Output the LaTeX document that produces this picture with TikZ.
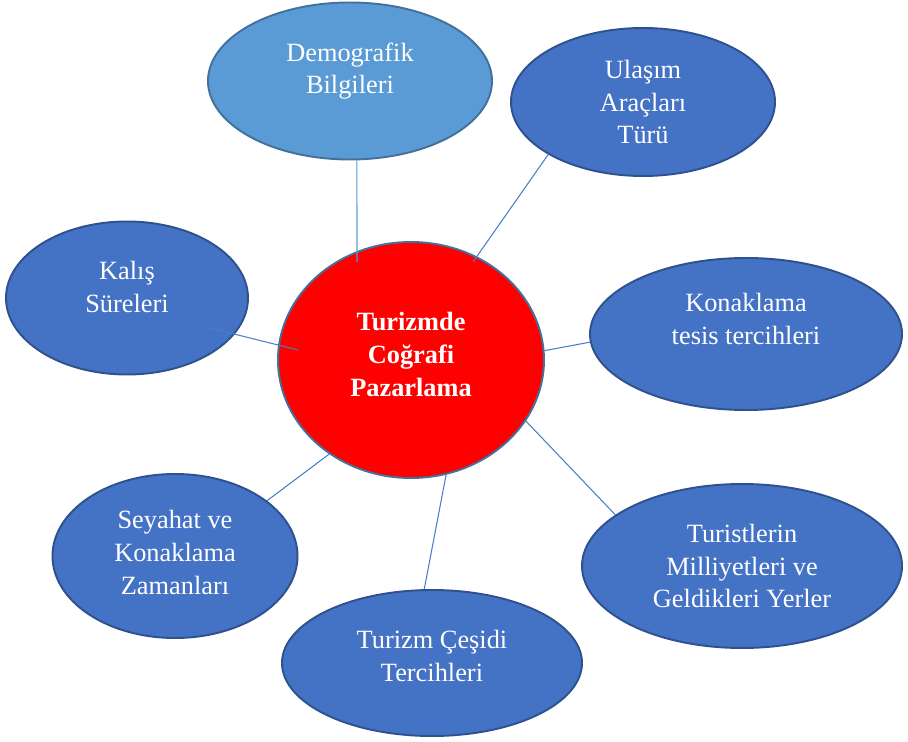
\documentclass[tikz,border=0pt]{standalone}
\usepackage{fontspec}
\setmainfont{Liberation Serif}
\usetikzlibrary{shapes.geometric,calc}
\definecolor{bubblefill}{HTML}{4472C4}
\definecolor{bubbleline}{HTML}{2F528F}
\definecolor{lightfill}{HTML}{5B9BD5}
\definecolor{lightline}{HTML}{41719C}
\definecolor{linkcol}{HTML}{4A7DC9}
% push the text of a bubble up a little
\newcommand{\liftby}[1]{\rule[-#1]{0pt}{#1}}
\begin{document}
\begin{tikzpicture}[x=0.02cm, y=-0.02cm,
  bubble/.style={ellipse, draw=bubbleline, fill=bubblefill, line width=1.1pt,
    inner sep=0pt, text=white, align=center,
    font=\fontsize{15}{18.7}\selectfont},
  link/.style={draw=linkcol, line width=0.6pt}]
% Set the page size
\def\px{0.02cm}
\useasboundingbox (0,0) rectangle (908,742);

% Draw the bubbles with their texts
\node[bubble, fill=red, draw=lightline, font=\fontsize{15}{18.7}\selectfont\bfseries,
  minimum width=266*\px, minimum height=236*\px] (center) at (411,360) {Turizmde\\Coğrafi\\Pazarlama\liftby{6.2pt}};
\node[bubble, fill=lightfill, draw=lightline,
  minimum width=284*\px, minimum height=157*\px] (demo) at (350,81) {Demografik\\Bilgileri\liftby{14.6pt}};
\node[bubble, minimum width=264*\px, minimum height=148*\px] (ulasim) at (643,102) {Ulaşım\\Araçları\\Türü};
\node[bubble, minimum width=242*\px, minimum height=153*\px] (kalis) at (127,298) {Kalış\\Süreleri\liftby{12.5pt}};
\node[bubble, minimum width=312*\px, minimum height=152*\px] (konak) at (746,334) {Konaklama\\tesis tercihleri\liftby{17pt}};
\node[bubble, minimum width=245*\px, minimum height=164*\px] (seyahat) at (175,556) {Seyahat ve\\Konaklama\\Zamanları\liftby{4pt}};
\node[bubble, minimum width=300*\px, minimum height=146*\px] (turizm) at (432,663) {Turizm Çeşidi\\Tercihleri\liftby{8pt}};
\node[bubble, minimum width=320*\px, minimum height=164*\px] (turist) at (742,566) {Turistlerin\\Milliyetleri ve\\Geldikleri Yerler};

% Draw the connectors
\draw[link, draw=lightfill] (demo.-85) -- ($(center)+(-54,-98)$);
\draw[link] (ulasim.-151) -- ($(center)+(62,-98)$);
\draw[link] ($(kalis)+(83,30)$) -- ($(center)+(-113,-10)$);
\draw[link] (center.4) -- (konak.-177);
\draw[link] (seyahat.31) -- (center.-131);
\draw[link] (turizm.96) -- (center.-73);
\draw[link] (center.-28) -- (turist.158);
\end{tikzpicture}
\end{document}
